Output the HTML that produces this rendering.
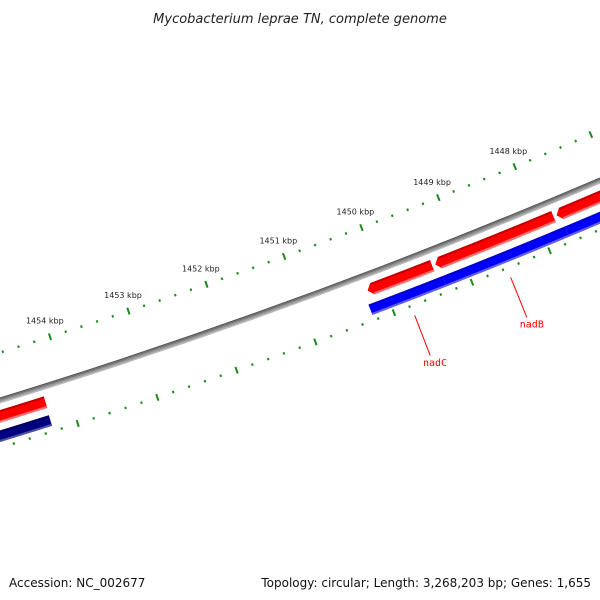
<!DOCTYPE html>
<html><head><meta charset="utf-8"><style>
html,body{margin:0;padding:0;background:#fff;}
svg{display:block;}
</style></head><body>
<svg id="map" width="600" height="600" viewBox="0 0 600 600" xmlns="http://www.w3.org/2000/svg">
<rect width="600" height="600" fill="#fff"/>
<text x="300" y="23" text-anchor="middle" font-family="DejaVu Sans, sans-serif" font-style="italic" font-size="13" fill="#222">Mycobacterium leprae TN, complete genome</text>
<text x="9" y="587" font-family="DejaVu Sans, sans-serif" font-size="12" fill="#111">Accession: NC_002677</text>
<text x="591" y="587" text-anchor="end" font-family="DejaVu Sans, sans-serif" font-size="12" fill="#111">Topology: circular; Length: 3,268,203 bp; Genes: 1,655</text>
<g id="layers"></g>
</svg>
<script>
// data (kbp)
const rulerStart = 1446;
const rulerEnd = 1456;
const majorLabels = [1448, 1449, 1450, 1451, 1452, 1453, 1454];
const forwardFeatures = [[1449.37, 1450.2], [1447.80, 1449.33], [1446.0, 1447.76], [1454.29, 1456.0]];
const forwardArrow = [true, true, true, false];
const reverseFeatures = [[1449.3, 1450.25], [1447.72, 1449.3], [1446.0, 1447.72], [1454.3, 1456.0]];
const reverseColors = ["#0000ff", "#0000ff", "#0000ff", "#000080"];
const geneNames = ["nadC", "nadB"];
const genePositions = [1449.78, 1448.55];

const CX = -1778, CY = -5378;
const NS = "http://www.w3.org/2000/svg";
const layer = document.getElementById('layers');
function ang(p){ return (69.11 + (p - 1450) * 0.788) * Math.PI / 180; }
function pt(p, r){ const a = ang(p); return [CX + r * Math.cos(a), CY + r * Math.sin(a)]; }
function arcPath(p1, p2, r){
  const a = pt(p1, r), b = pt(p2, r);
  return `M${a[0].toFixed(2)},${a[1].toFixed(2)} A${r},${r} 0 0 ${p2 > p1 ? 1 : 0} ${b[0].toFixed(2)},${b[1].toFixed(2)}`;
}
function mk(tag, attrs){ const e = document.createElementNS(NS, tag); for (const k in attrs) e.setAttribute(k, attrs[k]); return e; }

// backbone
const bbs = [[6043.5, '#555', 1.2], [6044.7, '#6a6a6a', 1.2], [6045.9, '#888', 1.2], [6047.1, '#a0a0a0', 1.2], [6048.2, '#b8b8b8', 1]];
bbs.forEach(s => {
  const e = mk('path', {d: arcPath(rulerStart, rulerEnd, s[0]), fill: 'none', stroke: s[1], 'stroke-width': s[2]});
  
  
  layer.appendChild(e);
});

// rulers
function ruler(r, labels, name){
  for (let i = Math.round(rulerStart * 5); i <= Math.round(rulerEnd * 5); i++) {
    const p = i / 5;
    const major = (i % 5 === 0);
    const h = major ? 3.5 : 1.2;
    const a = pt(p, r - h), b = pt(p, r + h);
    const t = mk('line', {x1: a[0], y1: a[1], x2: b[0], y2: b[1], stroke: '#1a8a1a', 'stroke-width': major ? 2 : 2});
    
    
    layer.appendChild(t);
    if (major && labels && majorLabels.indexOf(p) >= 0) {
      const c = pt(p, r - 17);
      const tx = mk('text', {x: c[0], y: c[1] + 3, 'text-anchor': 'middle', 'font-family': 'DejaVu Sans, sans-serif', 'font-size': '8', fill: '#222'});
      tx.textContent = p + ' kbp';
      
      
      layer.appendChild(tx);
    }
  }
}
ruler(6000, true, 'outer-ruler');
ruler(6091, false, 'inner-ruler');

// features
function feature(p1, p2, r, w, arrow, cols, name){
  const hp = arrow ? p2 - 5 / (r * 0.788 * Math.PI / 180) : p2;
  const r0 = r - w / 2, r1 = r + w / 2;
  const n = 40, pts = [];
  for (let k = 0; k <= n; k++) pts.push(pt(p1 + (hp - p1) * k / n, r0));
  if (arrow) pts.push(pt(p2, r));
  for (let k = n; k >= 0; k--) pts.push(pt(p1 + (hp - p1) * k / n, r1));
  const g = mk('g', {});
  
  
  const poly = mk('polygon', {points: pts.map(q => q[0].toFixed(2) + ',' + q[1].toFixed(2)).join(' '), fill: cols[0]});
  g.appendChild(poly);
  // shading bands
  const top = mk('path', {d: arcPath(p1, hp, r0 + 1), fill: 'none', stroke: cols[1], 'stroke-width': 2});
  const bot = mk('path', {d: arcPath(p1, hp, r1 - 1), fill: 'none', stroke: cols[2], 'stroke-width': 2});
  g.appendChild(top); g.appendChild(bot);
  layer.appendChild(g);
}
forwardFeatures.forEach((f, i) => feature(f[0], f[1], 6061, 12, forwardArrow[i], ['#ff0000', '#c00000', '#ff7070'], 'forward-gene-' + i));
reverseFeatures.forEach((f, i) => feature(f[0], f[1], 6080, 11, false, [reverseColors[i], reverseColors[i] === '#000080' ? '#000060' : '#0000d0', reverseColors[i] === '#000080' ? '#5050a0' : '#6060ff'], 'reverse-gene-' + i));

// gene labels
geneNames.forEach((g, i) => {
  const a = pt(genePositions[i], 6101), b = pt(genePositions[i], 6144);
  const l = mk('line', {x1: a[0], y1: a[1], x2: b[0], y2: b[1], stroke: '#ff0000', 'stroke-width': 1});
  
  
  layer.appendChild(l);
  const c = pt(genePositions[i], 6152);
  const t = mk('text', {x: c[0] + 2, y: c[1] + 3, 'text-anchor': 'middle', 'font-family': 'DejaVu Sans Mono, monospace', 'font-size': '10', fill: '#ff0000'});
  t.textContent = g;
  
  
  layer.appendChild(t);
});
</script>
</body></html>
